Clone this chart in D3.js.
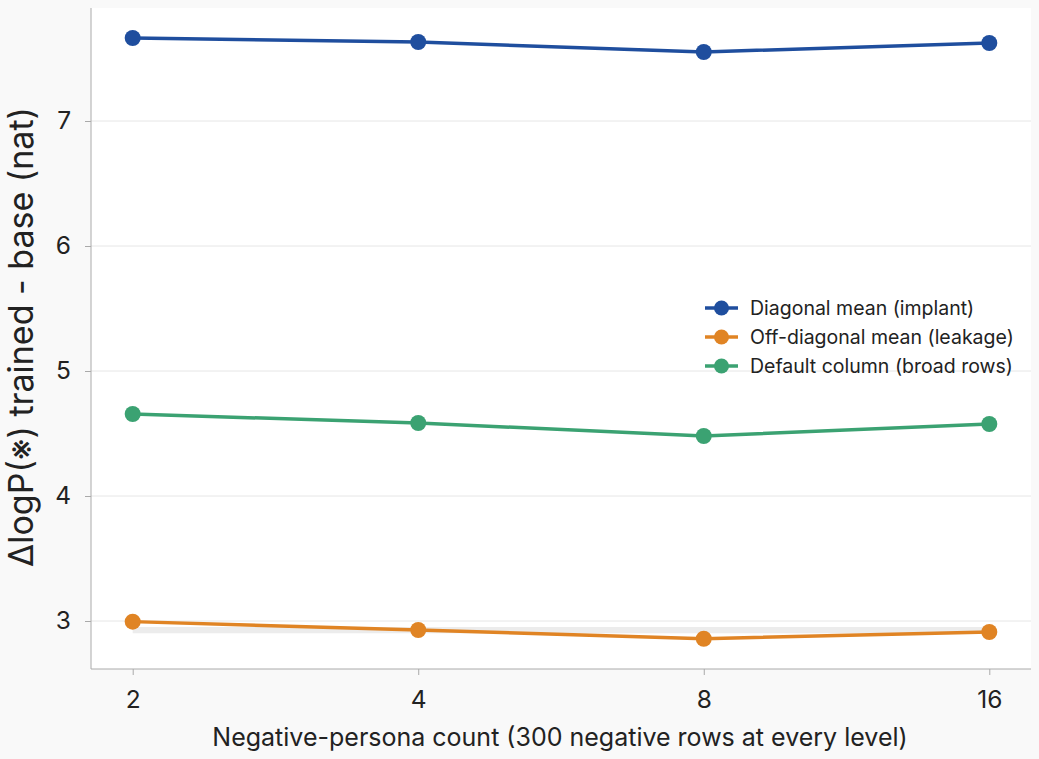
<!DOCTYPE html>
<html><head><meta charset="utf-8">
<script src="https://cdn.jsdelivr.net/npm/d3@7"></script>
<style>body{margin:0;background:#f9f9f9;font-family:Inter,"Noto Sans",sans-serif;}</style>
</head><body><svg id="c" width="1039" height="759"></svg>
<script>
const categories = ["2","4","8","16"];
const diagonal = [7.664, 7.632, 7.552, 7.624];
const offDiagonal = [2.995, 2.928, 2.858, 2.912];
const defaultCol = [4.656, 4.584, 4.480, 4.576];
const yTicks = [3,4,5,6,7];
const band = [2.902, 2.952];
const seriesNames = ["Diagonal mean (implant)","Off-diagonal mean (leakage)","Default column (broad rows)"];
const colors = ["#1f4e9e","#e08424","#3ba272"];

const svg = d3.select("#c");
const L=91, R=1031, T=8, B=669;
svg.append("rect").attr("width",1039).attr("height",759).attr("fill","#f9f9f9");
svg.append("rect").attr("x",L).attr("y",T).attr("width",R-L).attr("height",B-T).attr("fill","#fff");
const x = d3.scalePoint().domain(categories).range([L,R]).padding(0.146);
const y = d3.scaleLinear().domain([2.616,7.904]).range([B,T]);

svg.append("g").selectAll("line").data(yTicks).join("line")
 .attr("x1",L).attr("x2",R).attr("y1",d=>y(d)).attr("y2",d=>y(d))
 .attr("stroke","#e6e6e6").attr("stroke-width",1);

svg.append("rect").attr("x",x(categories[0])).attr("width",x(categories[3])-x(categories[0]))
 .attr("y",y(band[1])).attr("height",y(band[0])-y(band[1])).attr("fill","#ececec");

const yAxis = svg.append("g").attr("transform",`translate(${L},0)`).call(d3.axisLeft(y).tickValues(yTicks).tickSize(6).tickPadding(14).tickFormat(d3.format("d")));
const xAxis = svg.append("g").attr("transform",`translate(0,${B})`).call(d3.axisBottom(x).tickSize(6).tickPadding(16));
[yAxis,xAxis].forEach(a=>{
 a.select(".domain").attr("stroke","#aaa");
 a.selectAll(".tick line").attr("stroke","#aaa");
 a.selectAll("text").attr("font-size",24.5).attr("fill","#222").attr("font-family","Inter,sans-serif");
});
yAxis.select(".domain").attr("d",`M0,${T}V${B}`);
xAxis.select(".domain").attr("d",`M${L},0H${R}`);

const data=[diagonal,offDiagonal,defaultCol];
const line = d3.line().x((d,i)=>x(categories[i])).y(d=>y(d));
data.forEach((s,k)=>{
 svg.append("path").datum(s).attr("d",line).attr("fill","none").attr("stroke",colors[k]).attr("stroke-width",3.5);
 svg.append("g").selectAll("circle").data(s).join("circle")
  .attr("cx",(d,i)=>x(categories[i])).attr("cy",d=>y(d)).attr("r",8).attr("fill",colors[k]);
});

const lg = svg.append("g");
seriesNames.forEach((n,k)=>{
 const yy = 308 + k*29;
 lg.append("line").attr("x1",705).attr("x2",738).attr("y1",yy).attr("y2",yy).attr("stroke",colors[k]).attr("stroke-width",3.5);
 lg.append("circle").attr("cx",721.5).attr("cy",yy).attr("r",7.5).attr("fill",colors[k]);
 lg.append("text").attr("x",750).attr("y",yy).attr("dy","0.35em").attr("font-size",19.5).attr("fill","#222").text(n);
});

svg.append("text").attr("x",560).attr("y",746).attr("text-anchor","middle").attr("font-size",25).attr("fill","#222").text("Negative-persona count (300 negative rows at every level)");
svg.append("text").attr("transform",`translate(33,337) rotate(-90)`).attr("text-anchor","middle").attr("font-size",34).attr("fill","#222").text("ΔlogP(※) trained - base (nat)");
</script></body></html>
